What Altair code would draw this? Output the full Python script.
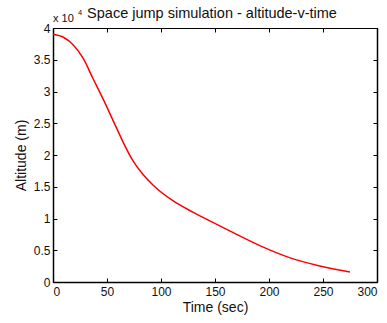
import altair as alt
import pandas as pd

time_s = [0, 10, 19, 28, 37, 47, 56, 65, 74, 84, 93, 111, 130, 148, 164, 192, 219, 247, 275]
altitude_m = [39000, 38500, 37300, 35200, 32050, 28600, 25300, 22000, 19100, 16800,
              15200, 12800, 10960, 9380, 8000, 5690, 3840, 2530, 1580]
x_ticks = [0, 50, 100, 150, 200, 250, 300]
y_ticks = [0, 0.5, 1, 1.5, 2, 2.5, 3, 3.5, 4]   # in units of 10^4 m
title_text = "Space jump simulation - altitude-v-time"
x_title = "Time (sec)"
y_title = "Altitude (m)"

FONT = "Liberation Sans"
INK = "#111111"
df = pd.DataFrame({"t": time_s, "alt": [a / 10000 for a in altitude_m]})

xs = alt.Scale(domain=[0, 300], nice=False, zero=False)
ys = alt.Scale(domain=[0, 4], nice=False, zero=False)
inward = alt.ExprRef(expr="-4")

x_axis = alt.Axis(values=x_ticks, title=x_title, grid=False,
                  tickSize=inward, tickColor="black", domainColor="black", domainWidth=1.5,
                  labelFont=FONT, labelFontSize=12, labelColor=INK, labelPadding=8, labelOverlap=False,
                  titleFont=FONT, titleFontSize=14, titleFontWeight="normal", titleColor=INK,
                  titlePadding=3)
y_axis = alt.Axis(values=y_ticks, title=y_title, grid=False,
                  tickSize=inward, tickColor="black", domainColor="black", domainWidth=1.5,
                  format="~g", labelFont=FONT, labelFontSize=12,
                  labelColor=INK, labelPadding=7, labelOverlap=False,
                  titleFont=FONT, titleFontSize=14, titleFontWeight="normal", titleColor=INK,
                  titlePadding=5)
enc = dict(x=alt.X("t:Q", scale=xs, axis=x_axis), y=alt.Y("alt:Q", scale=ys, axis=y_axis))

line = alt.Chart(df).mark_line(color="#ff0000", strokeWidth=1.5, interpolate="monotone").encode(**enc)

anchor_df = pd.DataFrame({"t": [0], "alt": [4]})
title_df = pd.DataFrame({"t": [150], "alt": [4]})

base_txt = alt.Chart(anchor_df).mark_text(text="x 10", font=FONT, fontSize=11, align="left",
                                           baseline="alphabetic", dx=0, dy=-6, color=INK).encode(**enc)
sup_txt = alt.Chart(anchor_df).mark_text(text="4", font=FONT, fontSize=7.5, align="left",
                                          baseline="alphabetic", dx=25, dy=-13, color=INK).encode(**enc)
title_txt = alt.Chart(title_df).mark_text(text=title_text, font=FONT, fontSize=14.5, align="center",
                                           baseline="alphabetic", dx=-3, dy=-10, color=INK).encode(**enc)
main = alt.layer(line, base_txt, sup_txt, title_txt)

mirror = alt.Chart(df).mark_line(opacity=0).encode(
    x=alt.X("t:Q", scale=xs, axis=alt.Axis(orient="top", values=x_ticks, labels=False, title=None,
            grid=False, tickSize=inward, tickColor="black", domainColor="black", domainWidth=1.2)),
    y=alt.Y("alt:Q", scale=ys, axis=alt.Axis(orient="right", values=y_ticks, labels=False, title=None,
            grid=False, tickSize=inward, tickColor="black", domainColor="black", domainWidth=1.5)),
)

chart = alt.layer(main, mirror).resolve_scale(x="independent", y="independent").properties(
    width=324, height=254,
    autosize=alt.AutoSizeParams(type="none"),
    padding={"left": 53, "top": 28, "right": 10, "bottom": 41},
).configure_view(stroke=None).configure(background="white")

chart.save("out.html", embed_options={"renderer": "svg", "actions": False})
